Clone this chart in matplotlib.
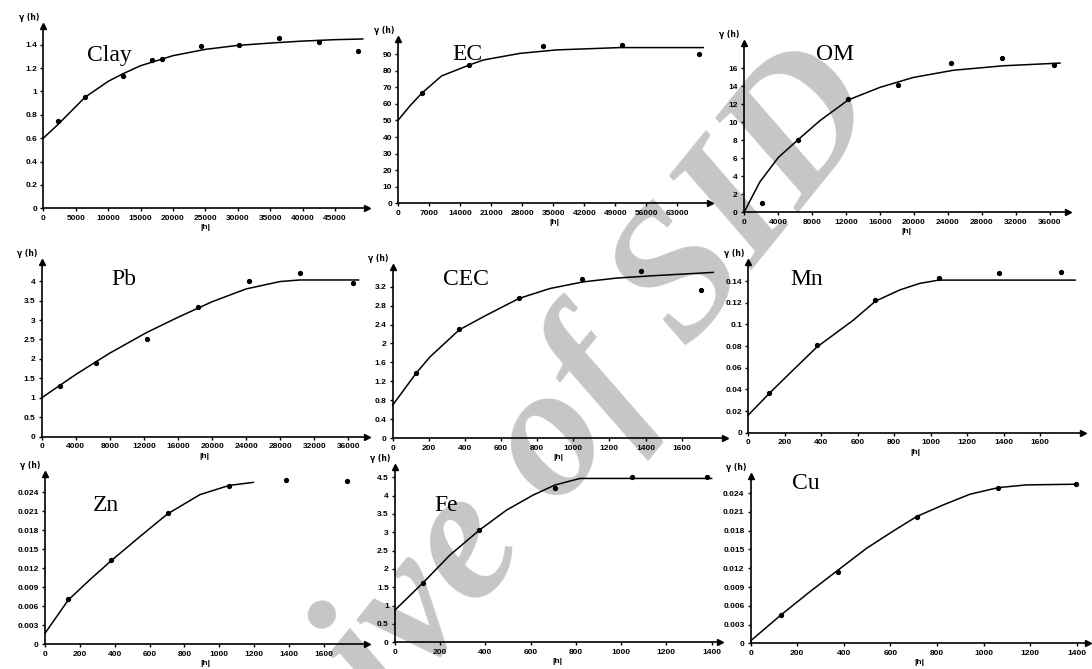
import matplotlib
matplotlib.use("Agg")
import matplotlib.pyplot as plt

clay_h = [2315, 6430, 12240, 16720, 18260, 24330, 30250, 36420, 42590, 48610]
clay_g = [0.743, 0.949, 1.129, 1.266, 1.277, 1.391, 1.40, 1.457, 1.42, 1.343]
clay_fit_h = [0, 2315, 6430, 10000, 12240, 15000, 20000, 25000, 30000, 35000, 40000, 45000, 49300]
clay_fit_g = [0.60, 0.72, 0.95, 1.086, 1.15, 1.22, 1.306, 1.36, 1.394, 1.414, 1.431, 1.443, 1.449]

ec_h = [5270, 16030, 32730, 50560, 67870]
ec_g = [66.8, 83.5, 95.0, 95.6, 90.1]
ec_fit_h = [0, 2630, 5270, 9780, 16030, 19190, 27460, 35740, 50040, 68850]
ec_fit_g = [50.3, 58.8, 66.4, 76.9, 83.5, 86.5, 90.5, 92.6, 94.0, 94.0]

om_h = [2160, 6390, 12270, 18160, 24350, 30390, 36510]
om_g = [1.0, 8.04, 12.6, 14.15, 16.56, 17.2, 16.44]
om_fit_h = [0, 1880, 4040, 6390, 8940, 12270, 16000, 19920, 24630, 30510, 37180]
om_fit_g = [0, 3.4, 6.1, 8.1, 10.2, 12.5, 13.9, 15.0, 15.8, 16.3, 16.6]

pb_h = [2150, 6375, 12330, 18390, 24380, 30330, 36520]
pb_g = [1.31, 1.89, 2.51, 3.33, 4.0, 4.22, 3.96]
pb_fit_h = [0, 4000, 8000, 12330, 16000, 20000, 24000, 28000, 30300, 37200]
pb_fit_g = [1.0, 1.6, 2.15, 2.68, 3.07, 3.47, 3.8, 3.99, 4.03, 4.03]

cec_h = [129, 369, 699, 1050, 1373, 1707]
cec_g = [1.37, 2.30, 2.97, 3.36, 3.52, 3.12]
cec_fit_h = [0, 129, 207, 369, 520, 699, 871, 1055, 1240, 1443, 1775]
cec_fit_g = [0.70, 1.37, 1.72, 2.29, 2.60, 2.95, 3.16, 3.30, 3.38, 3.43, 3.50]

mn_h = [115, 375, 697, 1046, 1375, 1713]
mn_g = [0.0363, 0.081, 0.1225, 0.1425, 0.148, 0.1486]
mn_fit_h = [0, 115, 210, 375, 576, 697, 832, 941, 1045, 1792]
mn_fit_g = [0.0163, 0.0363, 0.052, 0.079, 0.104, 0.1215, 0.132, 0.138, 0.141, 0.141]

zn_h = [134, 379, 704, 1057, 1382, 1730]
zn_g = [0.00716, 0.01332, 0.0207, 0.025, 0.02595, 0.0258]
zn_fit_h = [0, 134, 258, 379, 545, 704, 889, 1057, 1195]
zn_fit_g = [0.00174, 0.007, 0.0102, 0.01316, 0.017, 0.02058, 0.0236, 0.02505, 0.02553]

fe_h = [125, 373, 707, 1046, 1378]
fe_g = [1.63, 3.06, 4.2, 4.52, 4.52]
fe_fit_h = [0, 125, 243, 373, 494, 612, 707, 818, 1400]
fe_fit_g = [0.88, 1.63, 2.38, 3.06, 3.61, 4.02, 4.29, 4.47, 4.47]

cu_h = [129, 376, 713, 1064, 1396]
cu_g = [0.00453, 0.01136, 0.02027, 0.0249, 0.02544]
cu_fit_h = [0, 129, 255, 376, 498, 613, 713, 827, 942, 1064, 1185, 1400]
cu_fit_g = [0.0004, 0.0045, 0.00827, 0.01173, 0.0152, 0.01797, 0.02027, 0.02213, 0.02384, 0.0249, 0.02533, 0.02544]

clay_xt = [0, 5000, 10000, 15000, 20000, 25000, 30000, 35000, 40000, 45000]
clay_yt = [0, 0.2, 0.4, 0.6, 0.8, 1, 1.2, 1.4]
ec_xt = [0, 7000, 14000, 21000, 28000, 35000, 42000, 49000, 56000, 63000]
ec_yt = [0, 10, 20, 30, 40, 50, 60, 70, 80, 90]
om_xt = [0, 4000, 8000, 12000, 16000, 20000, 24000, 28000, 32000, 36000]
om_yt = [0, 2, 4, 6, 8, 10, 12, 14, 16]
pb_xt = [0, 4000, 8000, 12000, 16000, 20000, 24000, 28000, 32000, 36000]
pb_yt = [0, 0.5, 1, 1.5, 2, 2.5, 3, 3.5, 4]
cec_xt = [0, 200, 400, 600, 800, 1000, 1200, 1400, 1600]
cec_yt = [0, 0.4, 0.8, 1.2, 1.6, 2, 2.4, 2.8, 3.2]
mn_xt = [0, 200, 400, 600, 800, 1000, 1200, 1400, 1600]
mn_yt = [0, 0.02, 0.04, 0.06, 0.08, 0.1, 0.12, 0.14]
zn_xt = [0, 200, 400, 600, 800, 1000, 1200, 1400, 1600]
zn_yt = [0, 0.003, 0.006, 0.009, 0.012, 0.015, 0.018, 0.021, 0.024]
fe_xt = [0, 200, 400, 600, 800, 1000, 1200, 1400]
fe_yt = [0, 0.5, 1, 1.5, 2, 2.5, 3, 3.5, 4, 4.5]
cu_xt = [0, 200, 400, 600, 800, 1000, 1200, 1400]
cu_yt = [0, 0.003, 0.006, 0.009, 0.012, 0.015, 0.018, 0.021, 0.024]

W, H = 1092, 669
fig = plt.figure(figsize=(W / 100, H / 100), dpi=100)

tick_font = dict(family="Liberation Sans", size=6, weight="bold")


def panel(name, px, xmax, ymax, h, g, fit_h, fit_g, xt, yt, name_xy):
    # px = left, right, bottom (x axis row), top (arrow tip), in image pixels
    l, r, b, t = px
    ax = fig.add_axes([l / W, 1 - b / H, (r - l) / W, (b - t) / H])
    ax.patch.set_alpha(0)
    ax.set_xlim(0, xmax)
    ax.set_ylim(0, ymax)
    for s in ("top", "right"):
        ax.spines[s].set_visible(False)
    for s in ("left", "bottom"):
        ax.spines[s].set_linewidth(1.2)
    ax.plot(1, 0, ">k", ms=4.5, transform=ax.transAxes, clip_on=False)
    ax.plot(0, 1, "^k", ms=4.5, transform=ax.transAxes, clip_on=False)
    ax.plot(fit_h, fit_g, color="black", lw=1.1, clip_on=False)
    ax.plot(h, g, "o", color="black", ms=2.8, clip_on=False)
    ax.set_xticks(xt)
    ax.set_yticks(yt)
    ax.set_xticklabels(["%g" % v for v in xt], fontdict=tick_font)
    ax.set_yticklabels(["%g" % v for v in yt], fontdict=tick_font)
    ax.tick_params(axis="both", length=2.5, width=1.0, pad=2)
    ax.annotate("γ (h)", xy=(0, 1), xycoords="axes fraction", xytext=(-3, 6),
                textcoords="offset points", ha="right", va="center",
                family="DejaVu Sans", size=5.5, weight="bold")
    ax.annotate("|h|", xy=(0.5, 0), xycoords="axes fraction", xytext=(0, -14),
                textcoords="offset points", ha="center", va="center",
                family="Liberation Sans", size=6, weight="bold")
    fig.text(name_xy[0] / W, 1 - name_xy[1] / H, name, family="Liberation Serif",
             size=17, ha="left", va="baseline")
    return ax


panel("Clay", (43.3, 366.7, 208.3, 26), 49900, 1.56, clay_h, clay_g, clay_fit_h, clay_fit_g,
      clay_xt, clay_yt, (87, 61))
panel("EC", (398.3, 710, 203.3, 39.3), 70360, 99, ec_h, ec_g, ec_fit_h, ec_fit_g,
      ec_xt, ec_yt, (452, 60))
panel("OM", (744, 1068.3, 212.3, 43.3), 38160, 18.8, om_h, om_g, om_fit_h, om_fit_g,
      om_xt, om_yt, (816, 60))
panel("Pb", (41.7, 366.7, 436.7, 261.7), 38160, 4.5, pb_h, pb_g, pb_fit_h, pb_fit_g,
      pb_xt, pb_yt, (111, 285))
panel("CEC", (392.7, 725, 438.3, 266.7), 1840, 3.62, cec_h, cec_g, cec_fit_h, cec_fit_g,
      cec_xt, cec_yt, (443, 285))
panel("Mn", (748.3, 1083.3, 432.7, 261.7), 1837, 0.158, mn_h, mn_g, mn_fit_h, mn_fit_g,
      mn_xt, mn_yt, (790, 285))
panel("Zn", (45, 366.7, 644.3, 474.3), 1845, 0.0268, zn_h, zn_g, zn_fit_h, zn_fit_g,
      zn_xt, zn_yt, (93, 511))
panel("Fe", (395, 720, 642.3, 466.7), 1437, 4.79, fe_h, fe_g, fe_fit_h, fe_fit_g,
      fe_xt, fe_yt, (434, 511))
panel("Cu", (750.7, 1088.3, 643.3, 475.7), 1450, 0.0268, cu_h, cu_g, cu_fit_h, cu_fit_g,
      cu_xt, cu_yt, (792, 489))

# grey watermark behind the plots
fig.text(0.476, 0.150, "Archive of SID", family="Liberation Serif", style="italic",
         weight="bold", size=136, color="#c6c6c6", rotation=51,
         rotation_mode="anchor", ha="center", va="baseline", zorder=-5)

fig.savefig("out.png", dpi=100)
